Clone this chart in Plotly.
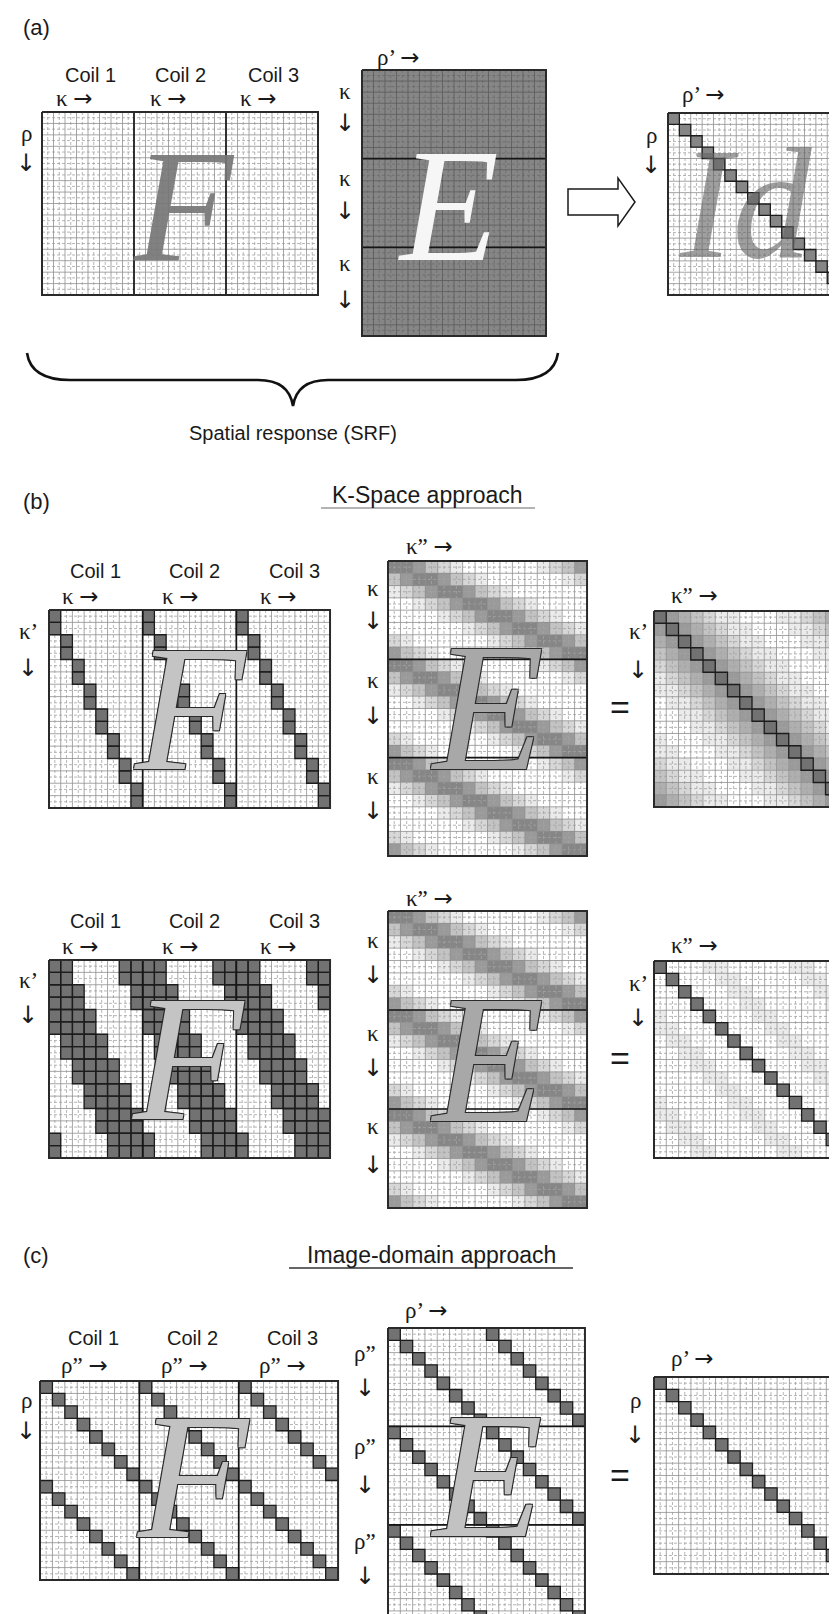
import plotly.graph_objects as go

W, H = 837, 1614

# ---------------- data: gray level of every cell (0 = white ... 9 = darkest) ----------------
ZERO_ROW_24 = "000000000000000000000000"
F_A = [ZERO_ROW_24] * 16                      # (a) F : all white
E_A = ["6666666666666666"] * 24               # (a) E : uniformly gray
ID_A = [
    "6000000000000000", "0600000000000000", "0060000000000000", "0006000000000000",
    "0000600000000000", "0000060000000000", "0000006000000000", "0000000600000000",
    "0000000060000000", "0000000006000000", "0000000000600000", "0000000000060000",
    "0000000000006000", "0000000000000600", "0000000000000060", "0000000000000006",
]
F_B1 = [
    "700000007000000070000000", "700000007000000070000000",
    "070000000700000007000000", "070000000700000007000000",
    "007000000070000000700000", "007000000070000000700000",
    "000700000007000000070000", "000700000007000000070000",
    "000070000000700000007000", "000070000000700000007000",
    "000007000000070000000700", "000007000000070000000700",
    "000000700000007000000070", "000000700000007000000070",
    "000000070000000700000007", "000000070000000700000007",
]
E_B_BLOCK = [
    "6653210000001235", "3566532100000012", "1235665321000000", "0012356653210000",
    "0000123566532100", "0000001235665321", "2100000012356653", "5321000000123566",
]
E_B = E_B_BLOCK + E_B_BLOCK + E_B_BLOCK
R_B1 = [
    "7543211000112345", "5754321100011234", "4575432110001123", "3457543211000112",
    "2345754321100011", "1234575432110001", "1123457543211000", "0112345754321100",
    "0011234575432110", "0001123457543211", "1000112345754321", "1100011234575432",
    "2110001123457543", "3211000112345754", "4321100011234575", "5432110001123457",
]
F_B2 = [
    "770000777700007777000077", "770000777700007777000077",
    "777000077770000777700007", "777000077770000777700007",
    "777700007777000077770000", "777700007777000077770000",
    "077770000777700007777000", "077770000777700007777000",
    "007777000077770000777700", "007777000077770000777700",
    "000777700007777000077770", "000777700007777000077770",
    "000077770000777700007777", "000077770000777700007777",
    "700007777000077770000777", "700007777000077770000777",
]
R_B2 = [
    "7000110000011000", "0700011000001100", "0070001100000110", "0007000110000011",
    "1000700011000001", "1100070001100000", "0110007000110000", "0011000700011000",
    "0001100070001100", "0000110007000110", "0000011000700011", "1000001100070001",
    "1100000110007000", "0110000011000700", "0011000001100070", "0001100000110007",
]
F_C_HALF = [
    "700000007000000070000000", "070000000700000007000000",
    "007000000070000000700000", "000700000007000000070000",
    "000070000000700000007000", "000007000000070000000700",
    "000000700000007000000070", "000000070000000700000007",
]
F_C = F_C_HALF + F_C_HALF
E_C_BLOCK = [
    "7000000070000000", "0700000007000000", "0070000000700000", "0007000000070000",
    "0000700000007000", "0000070000000700", "0000007000000070", "0000000700000007",
]
E_C = E_C_BLOCK + E_C_BLOCK + E_C_BLOCK
R_C = [
    "7000000000000000", "0700000000000000", "0070000000000000", "0007000000000000",
    "0000700000000000", "0000070000000000", "0000007000000000", "0000000700000000",
    "0000000070000000", "0000000007000000", "0000000000700000", "0000000000070000",
    "0000000000007000", "0000000000000700", "0000000000000070", "0000000000000007",
]

COILS = ["Coil 1", "Coil 2", "Coil 3"]
PANELS = ["(a)", "(b)", "(c)"]
TITLES = ["K-Space approach", "Image-domain approach"]
SRF_TEXT = "Spatial response (SRF)"

# ---------------- helpers ----------------
fig = go.Figure()
DARKEST = 74


def gray(d):
    g = round(255 - d * (255 - DARKEST) / 9)
    return f"rgb({g},{g},{g})"


COLORSCALE = [[i / 9, gray(i)] for i in range(10)]
_axn = [0]


def add_matrix(rows, left, top, cw, ch, vsep=(), hsep=(), outline_min=None,
               line_c="#8f8f8f", dash_c="#a3a3a3"):
    z = [[int(c) for c in r] for r in rows]
    nr, nc = len(z), len(z[0])
    _axn[0] += 1
    n = _axn[0]
    s = "" if n == 1 else str(n)
    xn, yn = "x" + s, "y" + s
    pad = 0.3
    u0, u1 = -0.5 - pad, nc - 0.5 + pad
    pl, pr = left - pad * cw, left + (nc + pad) * cw
    if pr > W:
        pr = W
        u1 = (W - left) / cw - 0.5
    v0, v1 = -0.5 - pad, nr - 0.5 + pad
    pt, pb = top - pad * ch, top + (nr + pad) * ch
    if pb > H:
        pb = H
        v1 = (H - top) / ch - 0.5
    fig.layout["xaxis" + s] = dict(domain=[pl / W, pr / W], range=[u0, u1], visible=False,
                                   anchor=yn, fixedrange=True)
    fig.layout["yaxis" + s] = dict(domain=[1 - pb / H, 1 - pt / H], range=[v1, v0], visible=False,
                                   anchor=xn, fixedrange=True)
    common = dict(xaxis=xn, yaxis=yn, hoverinfo="skip", showlegend=False)
    fig.add_trace(go.Heatmap(z=z, x=list(range(nc)), y=list(range(nr)), zmin=0, zmax=9,
                             colorscale=COLORSCALE, showscale=False, **common))
    # dashed mid-cell lines
    dx, dy = [], []
    for k in range(nc):
        dx += [k, k, None]; dy += [-0.5, nr - 0.5, None]
    for k in range(nr):
        dx += [-0.5, nc - 0.5, None]; dy += [k, k, None]
    fig.add_trace(go.Scatter(x=dx, y=dy, mode="lines",
                             line=dict(color=dash_c, width=0.8, dash="3px,2px"), **common))
    # solid cell boundaries
    sx, sy = [], []
    for k in range(1, nc):
        sx += [k - 0.5, k - 0.5, None]; sy += [-0.5, nr - 0.5, None]
    for k in range(1, nr):
        sx += [-0.5, nc - 0.5, None]; sy += [k - 0.5, k - 0.5, None]
    fig.add_trace(go.Scatter(x=sx, y=sy, mode="lines", line=dict(color=line_c, width=0.8), **common))
    # dark, outlined cells
    if outline_min is not None:
        levels = sorted({v for r in z for v in r if v >= outline_min})
        for lv in levels:
            cx, cy = [], []
            for i in range(nr):
                for j in range(nc):
                    if z[i][j] == lv:
                        cx += [j - 0.5, j + 0.5, j + 0.5, j - 0.5, j - 0.5, None]
                        cy += [i - 0.5, i - 0.5, i + 0.5, i + 0.5, i - 0.5, None]
            fig.add_trace(go.Scatter(x=cx, y=cy, mode="lines", fill="toself", fillcolor=gray(lv),
                                     line=dict(color="#1c1c1c", width=1.3), **common))
    # block separators
    bx, by = [], []
    for v in vsep:
        bx += [v, v, None]; by += [-0.5, nr - 0.5, None]
    for h in hsep:
        bx += [-0.5, nc - 0.5, None]; by += [h, h, None]
    if bx:
        fig.add_trace(go.Scatter(x=bx, y=by, mode="lines", line=dict(color="#151515", width=1.7), **common))
    # outer frame
    fig.add_trace(go.Scatter(x=[-0.5, nc - 0.5, nc - 0.5, -0.5, -0.5],
                             y=[-0.5, -0.5, nr - 0.5, nr - 0.5, -0.5], mode="lines",
                             line=dict(color="#2a2a2a", width=2), **common))


annotations = []
shapes = []


def px(x, y):
    return x / W, 1 - y / H


def label(text, x, y, size=21, family="Liberation Serif", color="#1a1a1a", **font_extra):
    fx, fy = px(x, y)
    annotations.append(dict(x=fx, y=fy, xref="paper", yref="paper", text=text, showarrow=False,
                            xanchor="center", yanchor="middle",
                            font=dict(family=family, size=size, color=color, **font_extra)))


ARROW_FONT = "DejaVu Sans"


def right_lab(sym, x, y):
    """greek symbol followed by a long right arrow"""
    label(sym + " <span style='font-family:DejaVu Sans'>→</span>", x, y, size=23)


def down_lab(sym, x, y_sym, y_arrow):
    label(sym, x, y_sym, size=23)
    label("↓", x, y_arrow, size=24, family=ARROW_FONT)


def path_str(cmds):
    out = []
    for cmd, pts in cmds:
        coords = " ".join("%.5f,%.5f" % px(x, y) for x, y in pts)
        out.append(cmd + " " + coords if pts else cmd)
    return " ".join(out)


OUTLINE = "-1px -1px 0 #2a2a2a, 1px -1px 0 #2a2a2a, -1px 1px 0 #2a2a2a, 1px 1px 0 #2a2a2a"


def big_letter(text, x, y, size, color, outline=False):
    extra = dict(style="italic")
    if outline:
        extra["shadow"] = OUTLINE
    label(text, x, y, size=size, family="Liberation Serif", color=color, **extra)


SANS = "Liberation Sans"

# ================= panel (a) =================
add_matrix(F_A, 34, 104, 11.5, 11.44, vsep=(7.5, 15.5))
add_matrix(E_A, 354, 62, 11.5, 11.08, hsep=(7.5, 15.5), line_c="#5a5a5a", dash_c="#6c6c6c")
add_matrix(ID_A, 660, 105, 11.375, 11.375, outline_min=6)

label(PANELS[0], 28, 20, size=22, family=SANS)
for name, cx, kx in zip(COILS, (82, 172, 265), (66, 160, 250)):
    label(name, cx, 67, size=20, family=SANS)
    right_lab("κ", kx, 90)
down_lab("ρ", 18, 125, 155)
right_lab("ρ’", 390, 49)
for ky, ay in ((83, 115), (170, 203), (255, 292)):
    down_lab("κ", 337, ky, ay)
right_lab("ρ’", 695, 86)
down_lab("ρ", 643, 127, 157)

big_letter("F", 176, 197, 162, "rgba(118,118,118,0.92)")
big_letter("E", 440, 197, 162, "#f6f6f6")
big_letter("Id", 738, 195, 158, "rgba(100,100,100,0.62)")

# hollow arrow
shapes.append(dict(type="path", xref="paper", yref="paper",
                   path=path_str([("M", [(560, 181)]), ("L", [(610, 181)]), ("L", [(610, 170)]),
                                  ("L", [(627, 194)]), ("L", [(610, 218)]), ("L", [(610, 207)]),
                                  ("L", [(560, 207)]), ("Z", [])]),
                   line=dict(color="#1a1a1a", width=1.5), fillcolor="white"))
# curly brace
shapes.append(dict(type="path", xref="paper", yref="paper",
                   path=path_str([("M", [(19, 345)]), ("Q", [(23, 372), (62, 372)]), ("L", [(250, 372)]),
                                  ("Q", [(281, 372), (285, 398)]), ("Q", [(289, 372), (320, 372)]),
                                  ("L", [(508, 372)]), ("Q", [(546, 372), (550, 345)])]),
                   line=dict(color="#111111", width=2.6)))
label(SRF_TEXT, 285, 425, size=20, family=SANS)

# ================= panel (b) =================
label(PANELS[1], 28, 493, size=22, family=SANS)
label(TITLES[0], 420, 487, size=23, family=SANS)
shapes.append(dict(type="line", xref="paper", yref="paper", x0=313 / W, x1=527 / W,
                   y0=1 - 500 / H, y1=1 - 500 / H, line=dict(color="#9a9a9a", width=1.6)))

# first K-space row
add_matrix(F_B1, 41, 602, 11.71, 12.375, vsep=(7.5, 15.5), outline_min=6)
add_matrix(E_B, 380, 553, 12.44, 12.29, hsep=(7.5, 15.5))
add_matrix(R_B1, 646, 603, 12.25, 12.25, outline_min=7)
# second K-space row
add_matrix(F_B2, 41, 952, 11.71, 12.375, vsep=(7.5, 15.5), outline_min=6)
add_matrix(E_B, 380, 903, 12.44, 12.375, hsep=(7.5, 15.5))
add_matrix(R_B2, 646, 953, 12.3, 12.31, outline_min=7)

for lab_y, kap_y, kp_y, kp2_y, e_top_lab, e_labs, r_top_lab, r_kp, eq_y in (
        (563, 588, 623, 660, 538, ((580, 613), (673, 708), (768, 803)), 587, (623, 662), 699),
        (913, 938, 973, 1007, 890, ((932, 967), (1025, 1060), (1118, 1157)), 937, (975, 1010), 1050)):
    for name, cx, kx in zip(COILS, (87, 186, 286), (72, 172, 270)):
        label(name, cx, lab_y, size=20, family=SANS)
        right_lab("κ", kx, kap_y)
    down_lab("κ’", 20, kp_y, kp2_y)
    right_lab("κ”", 421, e_top_lab)
    for ky, ay in e_labs:
        down_lab("κ", 365, ky, ay)
    right_lab("κ”", 686, r_top_lab)
    down_lab("κ’", 630, r_kp[0], r_kp[1])
    label("=", 612, eq_y, size=34, family=SANS)

big_letter("F", 182, 700, 180, "#c4c4c4", outline=True)
big_letter("E", 479, 699, 182, "rgba(178,178,178,0.93)", outline=True)
big_letter("F", 180, 1050, 180, "#c4c4c4", outline=True)
big_letter("E", 479, 1051, 182, "rgba(178,178,178,0.93)", outline=True)

# ================= panel (c) =================
label(PANELS[2], 28, 1247, size=22, family=SANS)
label(TITLES[1], 423, 1247, size=23, family=SANS)
shapes.append(dict(type="line", xref="paper", yref="paper", x0=281 / W, x1=565 / W,
                   y0=1 - 1260 / H, y1=1 - 1260 / H, line=dict(color="#333333", width=1.4)))

add_matrix(F_C, 32, 1373, 12.42, 12.44, vsep=(7.5, 15.5), outline_min=6)
add_matrix(E_C, 380, 1320, 12.31, 12.3, hsep=(7.5, 15.5), outline_min=6)
add_matrix(R_C, 646, 1369, 12.31, 12.31, outline_min=7)

for name, cx, rx in zip(COILS, (85, 184, 284), (76, 176, 274)):
    label(name, cx, 1330, size=20, family=SANS)
    right_lab("ρ”", rx, 1357)
down_lab("ρ", 18, 1392, 1423)
right_lab("ρ’", 418, 1302)
for ry, ay in ((1345, 1380), (1438, 1477), (1533, 1568)):
    down_lab("ρ”", 357, ry, ay)
right_lab("ρ’", 684, 1350)
down_lab("ρ", 627, 1392, 1427)
label("=", 612, 1467, size=34, family=SANS)

big_letter("F", 185, 1468, 180, "#c2c2c2", outline=True)
big_letter("E", 478, 1467, 180, "#c2c2c2", outline=True)

fig.update_layout(width=W, height=H, margin=dict(l=0, r=0, t=0, b=0),
                  paper_bgcolor="white", plot_bgcolor="rgba(0,0,0,0)", showlegend=False,
                  annotations=annotations, shapes=shapes)
fig.write_html("out.html")
